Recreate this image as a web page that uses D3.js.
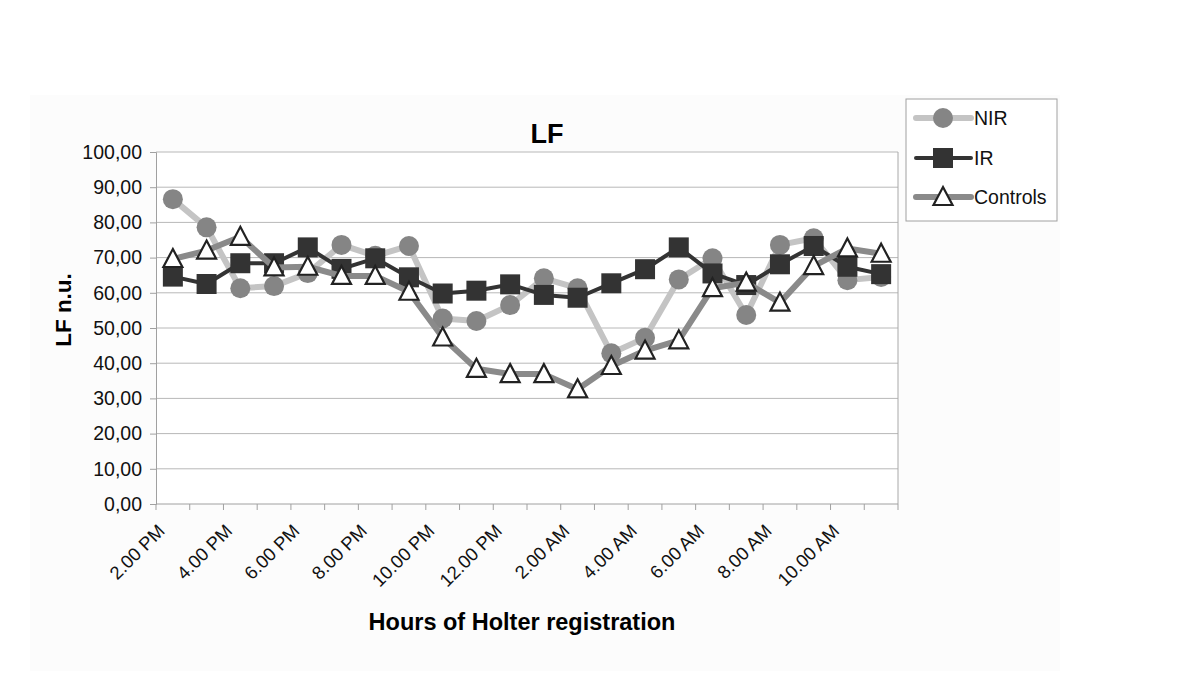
<!DOCTYPE html>
<html><head><meta charset="utf-8">
<script src="https://cdn.jsdelivr.net/npm/d3@7"></script>
<style>body{margin:0;background:#fff;}svg{display:block;font-family:"Liberation Sans",Arial,sans-serif;}</style>
</head><body><svg id="c" width="1200" height="677"></svg>
<script>
const hours = ["2.00 PM","3.00 PM","4.00 PM","5.00 PM","6.00 PM","7.00 PM","8.00 PM","9.00 PM","10.00 PM","11.00 PM","12.00 PM","1.00 AM","2.00 AM","3.00 AM","4.00 AM","5.00 AM","6.00 AM","7.00 AM","8.00 AM","9.00 AM","10.00 AM","11.00 AM"];
const tickLabels = ["2.00 PM","4.00 PM","6.00 PM","8.00 PM","10.00 PM","12.00 PM","2.00 AM","4.00 AM","6.00 AM","8.00 AM","10.00 AM"];
const nir = [86.6,78.6,61.3,61.9,65.6,73.6,70.5,73.3,52.7,52.0,56.5,64.1,61.3,42.8,47.2,63.8,69.8,53.7,73.6,75.5,63.6,64.5];
const ir = [64.6,62.5,68.4,68.4,72.9,66.8,69.8,64.4,59.8,60.6,62.4,59.4,58.6,62.7,66.7,72.9,65.5,62.2,68.1,73.3,67.4,65.3];
const controls = [69.6,72.0,75.9,67.2,67.4,64.8,64.8,60.3,47.3,38.4,36.9,36.9,32.6,39.2,43.6,46.5,61.3,62.9,57.2,67.6,72.6,71.1];
const yTicks = [0,10,20,30,40,50,60,70,80,90,100];

const svg = d3.select("#c");
svg.append("rect").attr("x",30).attr("y",95).attr("width",1030).attr("height",576).attr("fill","#fcfcfc");

const L=156, R=898, T=152, B=504;
const x = d3.scaleBand().domain(hours).range([L,R]).padding(0);
const y = d3.scaleLinear().domain([0,100]).range([B,T]);
const cx = d => x(d)+x.bandwidth()/2;

svg.append("rect").attr("x",L).attr("y",T).attr("width",R-L).attr("height",B-T).attr("fill","#fff");

// gridlines
svg.append("g").selectAll("line").data(yTicks.slice(1)).join("line")
  .attr("x1",L).attr("x2",R).attr("y1",d=>y(d)).attr("y2",d=>y(d))
  .attr("stroke","#b8b8b8").attr("stroke-width",1);
svg.append("line").attr("x1",R).attr("x2",R).attr("y1",T).attr("y2",B).attr("stroke","#a8a8a8");

// y axis
const ya = svg.append("g").attr("transform",`translate(${L},0)`)
  .call(d3.axisLeft(y).tickValues(yTicks).tickSize(6).tickPadding(8).tickFormat(d=>d3.format(".2f")(d).replace(".",",")));
ya.select(".domain").attr("stroke","#a0a0a0");
ya.selectAll(".tick line").attr("stroke","#a0a0a0");
ya.selectAll("text").attr("font-size",19.5).attr("fill","#111").attr("font-family","Liberation Sans, Arial");

// x axis
const xa = svg.append("g").attr("transform",`translate(0,${B})`);
xa.append("line").attr("x1",L).attr("x2",R).attr("y1",0).attr("y2",0).attr("stroke","#a0a0a0");
xa.selectAll("line.t").data(hours.concat(["end"])).join("line").attr("class","t")
  .attr("x1",(d,i)=>L+i*x.bandwidth()).attr("x2",(d,i)=>L+i*x.bandwidth())
  .attr("y1",0).attr("y2",6).attr("stroke","#a0a0a0");
xa.selectAll("text").data(tickLabels).join("text")
  .attr("transform",d=>`translate(${cx(d)-7},28) rotate(-45)`)
  .attr("text-anchor","end").attr("font-size",18.5).attr("fill","#111").text(d=>d);

const series = [
  {name:"NIR", data:nir, line:"#c4c4c4", lw:6, marker:"circle"},
  {name:"IR", data:ir, line:"#333333", lw:4, marker:"square"},
  {name:"Controls", data:controls, line:"#8a8a8a", lw:6, marker:"triangle"}
];
const lineGen = d3.line().x((d,i)=>cx(hours[i])).y(d=>y(d));

function drawMarker(g, type, px, py){
  if(type==="circle") g.append("circle").attr("cx",px).attr("cy",py).attr("r",10).attr("fill","#858585");
  else if(type==="square") g.append("rect").attr("x",px-10).attr("y",py-10).attr("width",20).attr("height",20).attr("fill","#333");
  else g.append("path").attr("d",`M${px},${py-10}L${px+9.5},${py+8}L${px-9.5},${py+8}Z`).attr("fill","#fff").attr("stroke","#222").attr("stroke-width",2.2);
}

series.forEach(s=>{
  const g = svg.append("g");
  g.append("path").datum(s.data).attr("d",lineGen).attr("fill","none")
    .attr("stroke",s.line).attr("stroke-width",s.lw).attr("stroke-linejoin","round");
  s.data.forEach((v,i)=>drawMarker(g,s.marker,cx(hours[i]),y(v)));
});

// titles
svg.append("text").attr("x",547).attr("y",143).attr("text-anchor","middle").attr("font-size",27).attr("font-weight","bold").text("LF");
svg.append("text").attr("transform","translate(71,310) rotate(-90)").attr("text-anchor","middle").attr("font-size",22.5).attr("font-weight","bold").text("LF n.u.");
svg.append("text").attr("x",522).attr("y",630).attr("text-anchor","middle").attr("font-size",23.5).attr("font-weight","bold").text("Hours of Holter registration");

// legend
const lg = svg.append("g");
lg.append("rect").attr("x",906).attr("y",99).attr("width",151).attr("height",122).attr("fill","#fff").attr("stroke","#a0a0a0");
const ly = [118,158,197];
series.forEach((s,i)=>{
  lg.append("line").attr("x1",916).attr("x2",971).attr("y1",ly[i]).attr("y2",ly[i]).attr("stroke",s.line).attr("stroke-width",s.lw).attr("stroke-linecap","round");
  drawMarker(lg,s.marker,943,ly[i]);
  lg.append("text").attr("x",974).attr("y",ly[i]+7).attr("font-size",19.5).attr("fill","#111").text(s.name);
});
</script></body></html>
